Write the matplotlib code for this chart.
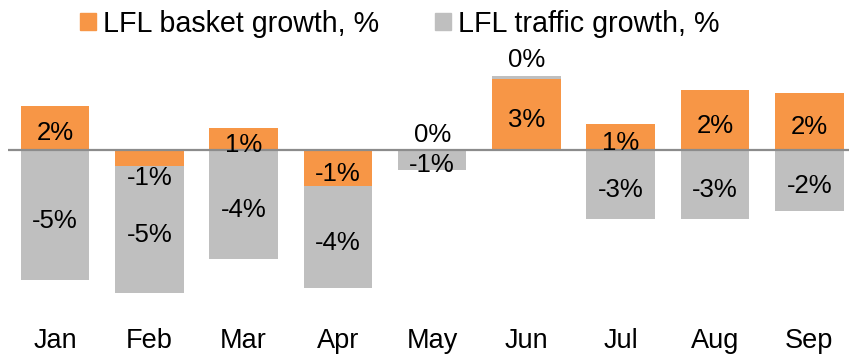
import numpy as np
import matplotlib
matplotlib.use("Agg")
import matplotlib.pyplot as plt
from matplotlib.patches import Patch

months = ["Jan", "Feb", "Mar", "Apr", "May", "Jun", "Jul", "Aug", "Sep"]
basket = [1.7, -0.6, 0.85, -1.4, 0.0, 2.75, 1.0, 2.3, 2.2]
traffic = [-5.0, -4.9, -4.2, -3.9, -0.75, 0.1, -2.65, -2.65, -2.35]

ORANGE = "#F79646"
GREY = "#BFBFBF"

plt.rcParams["font.family"] = ["Liberation Sans", "DejaVu Sans"]

W, H = 849, 356
fig = plt.figure(figsize=(W / 100, H / 100), dpi=100)

# axes placed in pixel terms: zero line at y=150, ~26 px per percentage point
px_per_pct = 26.0
ax_left, ax_right = 7.85, 856.5
ax_top, ax_bottom, zero_y = 50, 320, 150
ax = fig.add_axes([ax_left / W, 1 - ax_bottom / H,
                   (ax_right - ax_left) / W, (ax_bottom - ax_top) / H])
ax.set_ylim(-(ax_bottom - zero_y) / px_per_pct, (zero_y - ax_top) / px_per_pct)
ax.set_xlim(-0.5, len(months) - 0.5)

x = np.arange(len(months))
b = np.array(basket)
t = np.array(traffic)
# positive and negative parts stack separately
t_bottom = np.where(np.sign(t) == np.sign(b), b, 0.0)

width = 0.727
ax.bar(x, b, width, color=ORANGE, linewidth=0, zorder=2)
ax.bar(x, t, width, bottom=t_bottom, color=GREY, linewidth=0, zorder=2)
ax.axhline(0, color="#8C8C8C", linewidth=1.6, zorder=3)

LABEL_FS = 18.5


def label(xi, bottom, v):
    end = bottom + v
    txt = f"{v:.0f}%"
    if abs(v) < 0.7:
        if v < 0:
            ax.annotate(txt, (xi, end), xytext=(0, 0), textcoords="offset points",
                        ha="center", va="top", fontsize=LABEL_FS, zorder=4)
        else:
            ax.annotate(txt, (xi, end), xytext=(0, 2.5), textcoords="offset points",
                        ha="center", va="bottom", fontsize=LABEL_FS, zorder=4)
    else:
        ax.annotate(txt, (xi, bottom + v / 2), xytext=(0, -4), textcoords="offset points",
                    ha="center", va="center", fontsize=LABEL_FS, zorder=4)


for i in range(len(months)):
    label(x[i], 0.0, b[i])
    label(x[i], t_bottom[i], t[i])

ax.set_xticks(x)
ax.set_xticklabels(months, fontsize=19.5)
ax.tick_params(axis="x", length=0, pad=6)
ax.set_yticks([])
for s in ax.spines.values():
    s.set_visible(False)

handles = [Patch(color=ORANGE, label="LFL basket growth, %"),
           Patch(color=GREY, label="LFL traffic growth, %")]
fig.legend(handles=handles, loc="upper left", bbox_to_anchor=(80 / W, 1 - 10 / H),
           ncol=2, frameon=False, fontsize=20.6, borderpad=0, borderaxespad=0,
           handlelength=0.55, handleheight=0.55, handletextpad=0.25,
           columnspacing=1.95)

fig.savefig("out.png", dpi=100)
